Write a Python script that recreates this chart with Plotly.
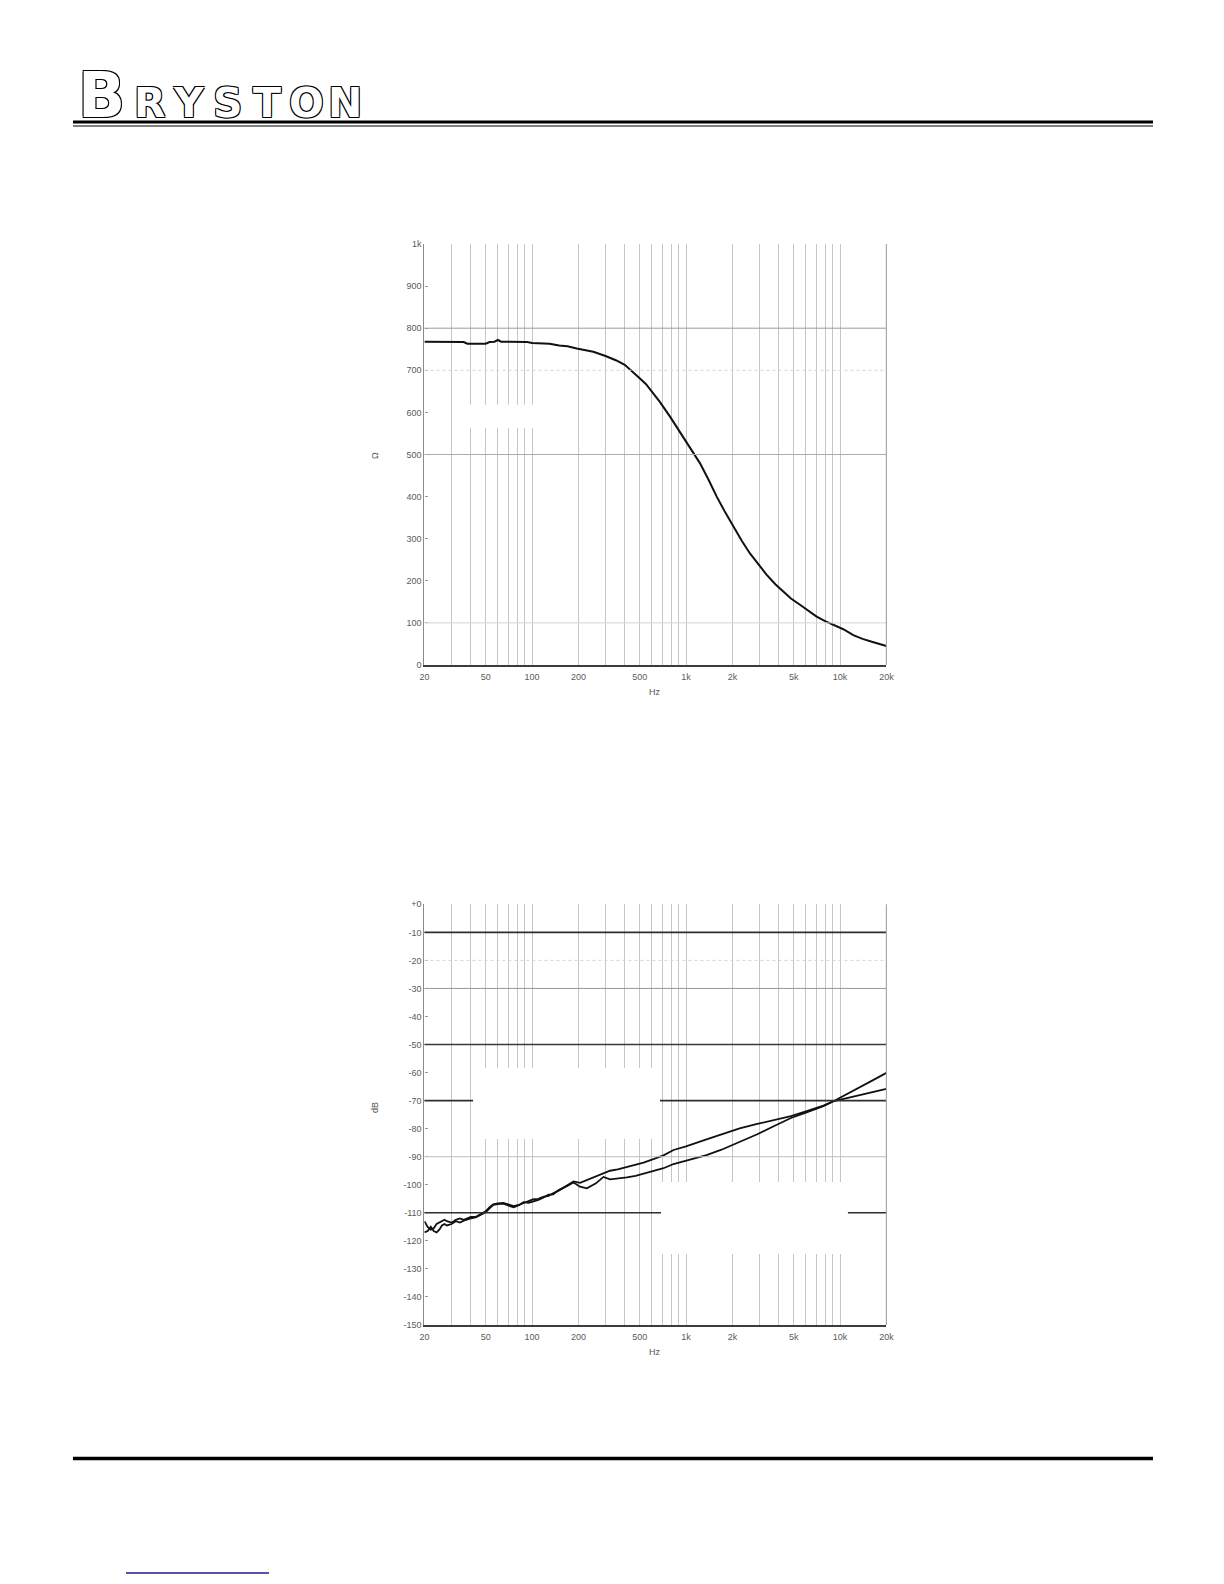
import numpy as np
import plotly.graph_objects as go

# ---------------- data ----------------
# Top chart: impedance vs frequency
imp_freq = [20, 25, 30, 36, 38, 45, 50, 53, 57, 60, 63, 70, 80, 93, 100, 130, 150, 170,
            195, 250, 300, 350, 400, 450, 500, 550, 613, 676, 787, 900, 1010, 1233, 1400,
            1582, 1800, 2027, 2300, 2601, 3000, 3342, 3800, 4284, 4800, 5495, 6200, 7048,
            8000, 9037, 10500, 12190, 14000, 16500, 20000]
imp_ohm = [768, 768, 768, 767, 763, 763, 763, 767, 768, 772, 768, 768, 768, 767, 765, 763,
           759, 757, 752, 744, 734, 724, 713, 697, 681, 667, 645, 625, 590, 556, 527, 479,
           440, 400, 362, 329, 295, 265, 237, 214, 192, 174, 158, 143, 129, 115, 104, 95,
           85, 71, 62, 54, 45]

# Bottom chart: noise level (dB) vs frequency, two channels
noise_freq = [20, 21, 22, 23, 24, 25, 26, 27, 28, 30, 32, 34, 36, 38, 40, 43, 46, 50, 53,
              56, 60, 65, 70, 76, 82, 88, 95, 101, 110, 118, 128, 137, 150, 168, 186, 205,
              227, 260, 291, 321, 360, 413, 470, 530, 620, 714, 829, 1000, 1358, 1700, 2230,
              2900, 3652, 4800, 6000, 7800, 9000, 11000, 13500, 16500, 20000]
noise_ch1 = [-113, -115, -116, -115.5, -114, -113.5, -113, -112.5, -113, -113.5, -112.5, -112,
             -112.5, -112, -111.5, -111.5, -110.5, -109.5, -108, -107, -106.6, -106.5, -107,
             -107.6, -107.2, -106.5, -106, -105.2, -105, -104.3, -104, -103, -102, -100.2,
             -98.8, -99.3, -98.3, -97, -95.7, -95, -94.5, -93.6, -92.9, -92.1, -90.8, -89.5,
             -87.6, -86.3, -83.8, -82, -79.9, -78.3, -76.9, -75.5, -73.8, -71.8, -70.3,
             -69.2, -68.0, -66.9, -65.8]
noise_ch2 = [-117, -116.5, -115, -116.5, -117, -116, -114.5, -114, -114.5, -114, -113, -113.5,
             -112.8, -112.3, -112, -111.6, -110.7, -109.8, -108.4, -107.2, -106.9, -106.7,
             -107.4, -108, -107.3, -106.2, -106.4, -106, -105.4, -104.6, -103.5, -103.4,
             -101.8, -100.5, -99.2, -100.7, -101.3, -99.5, -97.2, -98.1, -97.8, -97.4, -96.8,
             -96.0, -95, -94.1, -92.6, -91.3, -89.4, -87.5, -84.7, -82, -79.3, -76.2, -74.3,
             -72.0, -70.3, -67.8, -65.3, -62.6, -60.1]

# Axis ticks / labels
x_grid_vals = [20, 30, 40, 50, 60, 70, 80, 90, 100, 200, 300, 400, 500, 600, 700, 800, 900,
               1000, 2000, 3000, 4000, 5000, 6000, 7000, 8000, 9000, 10000, 20000]
x_label_map = {20: "20", 50: "50", 100: "100", 200: "200", 500: "500", 1000: "1k",
               2000: "2k", 5000: "5k", 10000: "10k", 20000: "20k"}
top_y_ticks = [0, 100, 200, 300, 400, 500, 600, 700, 800, 900, 1000]
top_y_labels = ["0", "100", "200", "300", "400", "500", "600", "700", "800", "900", "1k"]
bot_y_ticks = [-150, -140, -130, -120, -110, -100, -90, -80, -70, -60, -50, -40, -30, -20, -10, 0]
bot_y_labels = ["-150", "-140", "-130", "-120", "-110", "-100", "-90", "-80", "-70", "-60",
                "-50", "-40", "-30", "-20", "-10", "+0"]

# horizontal reference lines (value, colour, width, dash)
top_hlines = [(800, "#9a9a9a", 1, "solid"), (700, "#d4d4d4", 1, "dot"),
              (500, "#ababab", 1, "solid"), (100, "#d4d4d4", 1, "solid")]
bot_hlines = [(-10, "#2e2e2e", 1.6, "solid"), (-20, "#d4d4d4", 1, "dot"),
              (-30, "#9a9a9a", 1, "solid"), (-50, "#3a3a3a", 1.6, "solid"),
              (-70, "#2e2e2e", 1.6, "solid"), (-90, "#bdbdbd", 1, "solid"),
              (-110, "#2e2e2e", 1.6, "solid")]

# page body has an 8px margin: figure is sized to fit inside it
OFF = 8
W, H = 1224 - 2 * OFF, 1584 - 2 * OFF


def px(x):
    return (x - OFF) / W


def py(y):
    return 1 - (y - OFF) / H


def fx(freq):
    """frequency -> fraction of the x domain (log axis, 20 Hz .. 20 kHz)"""
    return float(np.log10(freq / 20.0) / 3.0)


X_DOM = [px(424.4), px(886.4)]
TOP_DOM = [py(665), py(244)]
BOT_DOM = [py(1325), py(904.3)]
LX0, LX1 = np.log10(20), np.log10(20000)

fig = go.Figure()
fig.add_trace(go.Scatter(x=imp_freq, y=imp_ohm, mode="lines", xaxis="x", yaxis="y",
                         line=dict(color="#111111", width=2), showlegend=False))
fig.add_trace(go.Scatter(x=noise_freq, y=noise_ch1, mode="lines", xaxis="x2", yaxis="y2",
                         line=dict(color="#111111", width=1.8), showlegend=False))
fig.add_trace(go.Scatter(x=noise_freq, y=noise_ch2, mode="lines", xaxis="x2", yaxis="y2",
                         line=dict(color="#111111", width=1.8), showlegend=False))

tick_font = dict(family="Liberation Sans, Arial, sans-serif", size=9, color="#5a5a5a")
xticktext = [x_label_map.get(v, "") for v in x_grid_vals]


def xaxis_cfg(anchor):
    return dict(type="log", range=[LX0, LX1], domain=X_DOM,
                anchor=anchor, tickvals=x_grid_vals, ticktext=xticktext,
                showgrid=True, gridcolor="#c6c6c6", gridwidth=1.2, zeroline=False,
                showline=True, linecolor="#3c3c3c", linewidth=1.5, ticks="",
                tickfont=tick_font, ticklabelstandoff=2, fixedrange=True)


def yaxis_cfg(anchor, dom, rng, tv, tt):
    return dict(range=rng, domain=dom, anchor=anchor, tickvals=tv, ticktext=tt,
                showgrid=False, zeroline=False, showline=True, linecolor="#8a8a8a",
                linewidth=1.2, ticks="inside", ticklen=3, tickcolor="#9a9a9a",
                tickfont=tick_font, fixedrange=True)


fig.update_layout(
    width=W, height=H, margin=dict(l=0, r=0, t=0, b=0, autoexpand=False),
    paper_bgcolor="white", plot_bgcolor="white", showlegend=False,
    xaxis=xaxis_cfg("y"),
    yaxis=yaxis_cfg("x", TOP_DOM, [0, 1000], top_y_ticks, top_y_labels),
    xaxis2=xaxis_cfg("y2"),
    yaxis2=yaxis_cfg("x2", BOT_DOM, [-150, 0], bot_y_ticks, bot_y_labels),
)

shapes = []
for val, col, wd, dash in top_hlines:
    shapes.append(dict(type="line", xref="x domain", yref="y", x0=0, x1=1, y0=val, y1=val,
                       line=dict(color=col, width=wd, dash=dash)))
for val, col, wd, dash in bot_hlines:
    shapes.append(dict(type="line", xref="x2 domain", yref="y2", x0=0, x1=1, y0=val, y1=val,
                       line=dict(color=col, width=wd, dash=dash)))
# right border lines
shapes.append(dict(type="line", xref="x domain", yref="y domain", x0=1, x1=1, y0=0, y1=1,
                   line=dict(color="#a8a8a8", width=1.2)))
shapes.append(dict(type="line", xref="x2 domain", yref="y2 domain", x0=1, x1=1, y0=0, y1=1,
                   line=dict(color="#a8a8a8", width=1.2)))
# white blanked-out areas (drawn over grid and reference lines)
shapes.append(dict(type="rect", xref="x domain", yref="y", x0=fx(36), x1=fx(108),
                   y0=563, y1=618, fillcolor="white", line=dict(width=0)))
shapes.append(dict(type="rect", xref="x2 domain", yref="y2", x0=fx(41.4), x1=fx(677),
                   y0=-83.7, y1=-58.4, fillcolor="white", line=dict(width=0)))
shapes.append(dict(type="rect", xref="x2 domain", yref="y2", x0=fx(688), x1=fx(11250),
                   y0=-124.7, y1=-99.0, fillcolor="white", line=dict(width=0)))
# page rules
shapes.append(dict(type="line", xref="paper", yref="paper", x0=px(73), x1=px(1153),
                   y0=py(122), y1=py(122), line=dict(color="black", width=3)))
shapes.append(dict(type="line", xref="paper", yref="paper", x0=px(73), x1=px(1153),
                   y0=py(126), y1=py(126), line=dict(color="black", width=1.2)))
shapes.append(dict(type="line", xref="paper", yref="paper", x0=px(73), x1=px(1153),
                   y0=py(1458.5), y1=py(1458.5), line=dict(color="black", width=3.5)))
shapes.append(dict(type="line", xref="paper", yref="paper", x0=px(126), x1=px(269),
                   y0=py(1573), y1=py(1573), line=dict(color="#1a1a8c", width=1.5)))
fig.update_layout(shapes=shapes)

outline = "-1px -1px 0 #000, 1px -1px 0 #000, -1px 1px 0 #000, 1px 1px 0 #000"
ann = []
lab_font = dict(family="Liberation Sans, Arial, sans-serif", size=9, color="#555555")


def add_text(text, x, y, font, angle=0):
    ann.append(dict(text=text, x=px(x), y=py(y), xref="paper", yref="paper",
                    xanchor="center", yanchor="middle", showarrow=False,
                    textangle=angle, font=font))


add_text("Ω", 375, 456, lab_font, -90)
add_text("Hz", 655, 692, lab_font)
add_text("dB", 375, 1108, lab_font, -90)
add_text("Hz", 655, 1352, lab_font)
# logo
add_text("B", 101, 95, dict(family="DejaVu Sans, sans-serif", size=62, color="white",
                            weight="bold", shadow=outline))
for i, ch in enumerate("RYSTON"):
    add_text(ch, 150 + 39 * i, 103, dict(family="DejaVu Sans, sans-serif", size=41,
                                          color="white", weight="bold", shadow=outline))
fig.update_layout(annotations=ann)

fig.write_html("out.html")
